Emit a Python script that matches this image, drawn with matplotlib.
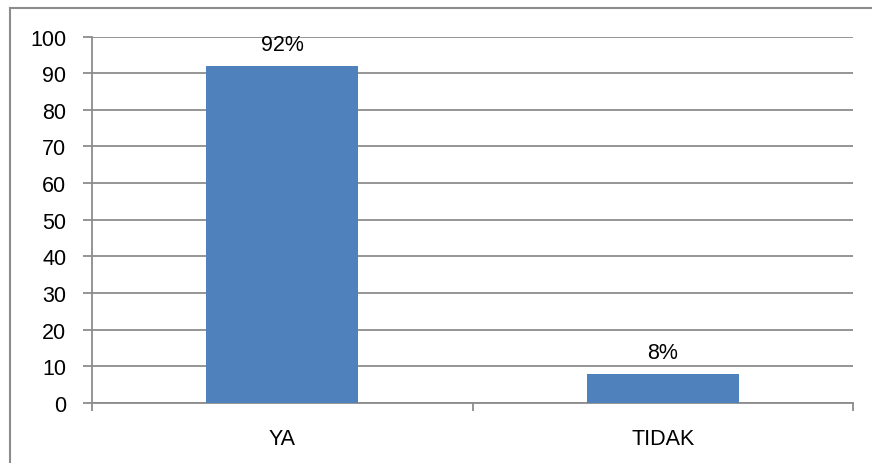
import numpy as np
import matplotlib.pyplot as plt
from matplotlib.lines import Line2D

# --- Daten ---
kategorien = ["YA", "TIDAK"]
werte = [92, 8]
beschriftung = ["92%", "8%"]
y_ticks = [0, 10, 20, 30, 40, 50, 60, 70, 80, 90, 100]

plt.rcParams['font.family'] = ['Liberation Sans', 'DejaVu Sans']

GRAU = "#8c8c8c"

fig = plt.figure(figsize=(8.72, 4.64), dpi=100)
ax = fig.add_axes([92 / 872, 1 - 404 / 464, (853 - 92) / 872, (404 - 37.5) / 464])

x = np.arange(len(kategorien))
bars = ax.bar(x, werte, width=0.4, color="#4F81BD", zorder=3)

for b, txt in zip(bars, beschriftung):
    ax.annotate(txt, (b.get_x() + b.get_width() / 2, b.get_height()),
                xytext=(0, 7.5), textcoords="offset points",
                ha="center", va="bottom", fontsize=15.5, color="black")

ax.set_xlim(-0.5, len(kategorien) - 0.5)
ax.set_ylim(0, 100)
ax.set_yticks(y_ticks)
ax.set_xticks(x)
ax.set_xticklabels(kategorien)
ax.set_xticks(np.arange(len(kategorien) + 1) - 0.5, minor=True)

ax.grid(axis="y", color=GRAU, linewidth=1.3, zorder=0)
ax.tick_params(axis="y", length=6.5, width=1.3, color=GRAU, pad=12, labelsize=15.5)
ax.tick_params(axis="x", which="major", length=0, pad=18, labelsize=15.5)
ax.tick_params(axis="x", which="minor", length=6, width=1.3, color=GRAU)

for s in ["top", "right"]:
    ax.spines[s].set_visible(False)
for s in ["left", "bottom"]:
    ax.spines[s].set_color(GRAU)
    ax.spines[s].set_linewidth(1.3)

# Rahmen um die Grafik (nur oben/links sichtbar)
rx, ry = 9.5 / 872, 1 - 8.5 / 464
fig.add_artist(Line2D([rx, 1.0], [ry, ry], transform=fig.transFigure,
                      color=GRAU, linewidth=1.5))
fig.add_artist(Line2D([rx, rx], [0.0, ry], transform=fig.transFigure,
                      color=GRAU, linewidth=1.5))

fig.savefig("out.png", dpi=100)
